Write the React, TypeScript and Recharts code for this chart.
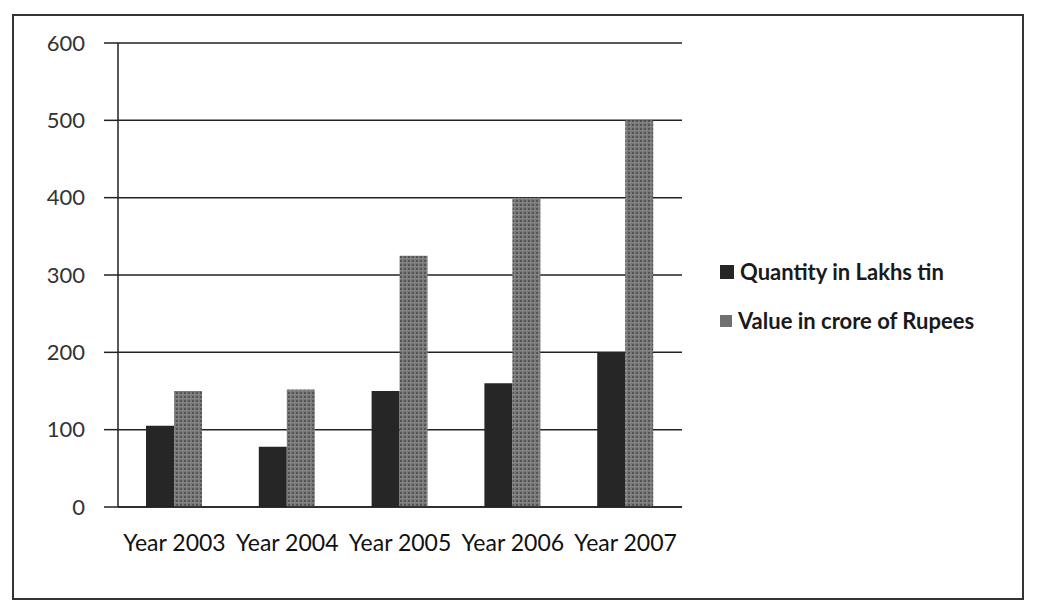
import React from 'react';
import { BarChart, Bar, XAxis, YAxis, CartesianGrid } from 'recharts';

const years = ['Year 2003', 'Year 2004', 'Year 2005', 'Year 2006', 'Year 2007'];
const quantity = [105, 78, 150, 160, 200];
const value = [150, 152, 325, 400, 500];
const yTicks = [0, 100, 200, 300, 400, 500, 600];
const seriesNames = ['Quantity in Lakhs tin', 'Value in crore of Rupees'];

const data = years.map((year, i) => ({
  year,
  quantity: quantity[i],
  value: value[i]
}));

const font = 'Lato, "Open Sans", sans-serif';

const App: React.FC = () => {
  return <div style={{ position: 'relative', width: 1022, height: 598 }}>
      <div style={{
      position: 'absolute',
      left: 4,
      top: 6,
      width: 1012,
      height: 586,
      border: '2px solid #333',
      boxSizing: 'border-box'
    }} />
      <BarChart width={1020} height={590} data={data} margin={{ top: 35, right: 346, bottom: 51, left: 0 }} barCategoryGap={28} barGap={0}>
        <defs>
          <pattern id="stipple" width="4" height="4" patternUnits="userSpaceOnUse">
            <rect width="4" height="4" fill="#7a7a7a" />
            <rect x="0" y="0" width="2" height="2" fill="#555" />
            <rect x="2" y="2" width="1" height="1" fill="#9a9a9a" />
          </pattern>
        </defs>
        <CartesianGrid horizontal vertical={false} stroke="#222" strokeWidth={1.5} strokeOpacity={1} />
        <XAxis dataKey="year" height={40} axisLine={{ stroke: '#222', strokeWidth: 1.5 }} tickLine={false} interval={0} tick={{ fill: '#111', fontSize: 23, fontFamily: font }} tickMargin={22} />
        <YAxis domain={[0, 600]} ticks={yTicks} width={110} axisLine={{ stroke: '#222', strokeWidth: 1.5 }} tickLine={{ stroke: '#222', strokeWidth: 1.5 }} tickSize={14} tickMargin={19} tick={{ fill: '#333', fontSize: 22, fontFamily: font }} />
        <Bar dataKey="quantity" name={seriesNames[0]} fill="#262626" isAnimationActive={false} />
        <Bar dataKey="value" name={seriesNames[1]} fill="url(#stipple)" isAnimationActive={false} />
      </BarChart>
      <div style={{
      position: 'absolute',
      left: 712,
      top: 250,
      fontFamily: font,
      fontSize: 22,
      fontWeight: 700,
      color: '#1a1a1a'
    }}>
        <div style={{ display: 'flex', alignItems: 'center', marginBottom: 22 }}>
          <span style={{ width: 14, height: 14, background: '#262626', marginRight: 6, display: 'inline-block' }} />
          {seriesNames[0]}
        </div>
        <div style={{ display: 'flex', alignItems: 'center' }}>
          <span style={{ width: 12, height: 12, background: '#707070', marginRight: 6, display: 'inline-block' }} />
          {seriesNames[1]}
        </div>
      </div>
    </div>;
};

export default App;
